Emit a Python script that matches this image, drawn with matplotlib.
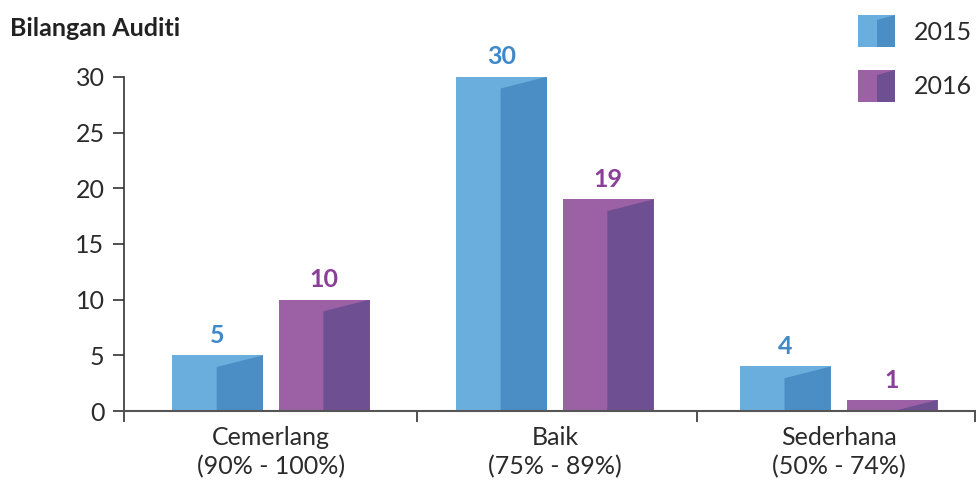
import matplotlib.pyplot as plt
from matplotlib.patches import Rectangle, Polygon

categories = ["Cemerlang\n(90% - 100%)", "Baik\n(75% - 89%)", "Sederhana\n(50% - 74%)"]
years = ["2015", "2016"]
values_2015 = [5, 30, 4]
values_2016 = [10, 19, 1]

light = ["#6aaede", "#9b61a4"]
dark = ["#4b8ec5", "#6d4f92"]
label_col = ["#3f88c9", "#8b3f98"]

plt.rcParams['font.family'] = ['Lato', 'DejaVu Sans']

fig = plt.figure(figsize=(9.76, 4.83), dpi=100)
ax = fig.add_axes([0.127, 0.149, 0.872, 0.692])

width = 0.32
offset = 0.188
drop = 1.05  # slant of the darker face, in data units

for k, vals in enumerate([values_2015, values_2016]):
    for i, v in enumerate(vals):
        x0 = i + (offset if k else -offset) - width / 2
        rect = Rectangle((x0, 0), width, v, facecolor=light[k], edgecolor="none", zorder=2)
        ax.add_patch(rect)
        mid = x0 + width * 0.49
        face = Polygon([(mid, 0), (x0 + width, 0), (x0 + width, v), (mid, v - drop)],
                       closed=True, facecolor=dark[k], edgecolor="none", zorder=3)
        ax.add_patch(face)
        face.set_clip_path(rect)
        ax.annotate(str(v), (x0 + width / 2, v), xytext=(0, 6), textcoords="offset points",
                    ha="center", va="bottom", fontsize=18, fontweight="bold",
                    color=label_col[k], annotation_clip=False)

ax.set_xlim(-0.518, 2.48)
ax.set_ylim(0, 30)
ax.set_yticks(range(0, 31, 5))
ax.set_xticks([0, 1, 2])
ax.set_xticklabels(categories, fontsize=18, color="#2b2b2b", linespacing=1.3)
ax.set_xticks([-0.518, 0.514, 1.5, 2.48], minor=True)
ax.tick_params(axis="x", which="major", length=0, pad=11)
ax.tick_params(axis="x", which="minor", length=8, width=1.2, color="#333333", direction="out")
ax.tick_params(axis="y", length=8, width=1.2, color="#333333", labelsize=18,
               labelcolor="#2b2b2b", pad=6)
for s in ["top", "right"]:
    ax.spines[s].set_visible(False)
ax.spines["left"].set_color("#333333")
ax.spines["left"].set_linewidth(1.2)
ax.spines["bottom"].set_color("#555555")
ax.spines["bottom"].set_linewidth(1.5)
ax.spines["bottom"].set_zorder(4)

fig.text(10 / 976, 1 - 28 / 483, "Bilangan Auditi", fontsize=18, fontweight="bold",
         color="#222222", va="center", ha="left")

# legend with the same two-tone swatches
leg = fig.add_axes([0, 0, 1, 1])
leg.set_xlim(0, 976)
leg.set_ylim(483, 0)
leg.axis("off")
for k, yr in enumerate(years):
    y0 = 15 + k * 55
    sw = Rectangle((858, y0), 37, 32, facecolor=light[k], edgecolor="none")
    leg.add_patch(sw)
    leg.add_patch(Polygon([(877, y0 + 32), (895, y0 + 32), (895, y0), (877, y0 + 5)],
                          closed=True, facecolor=dark[k], edgecolor="none"))
    leg.text(914, y0 + 17, yr, fontsize=18, color="#2b2b2b", va="center", ha="left")

fig.savefig("out.png", dpi=100)
